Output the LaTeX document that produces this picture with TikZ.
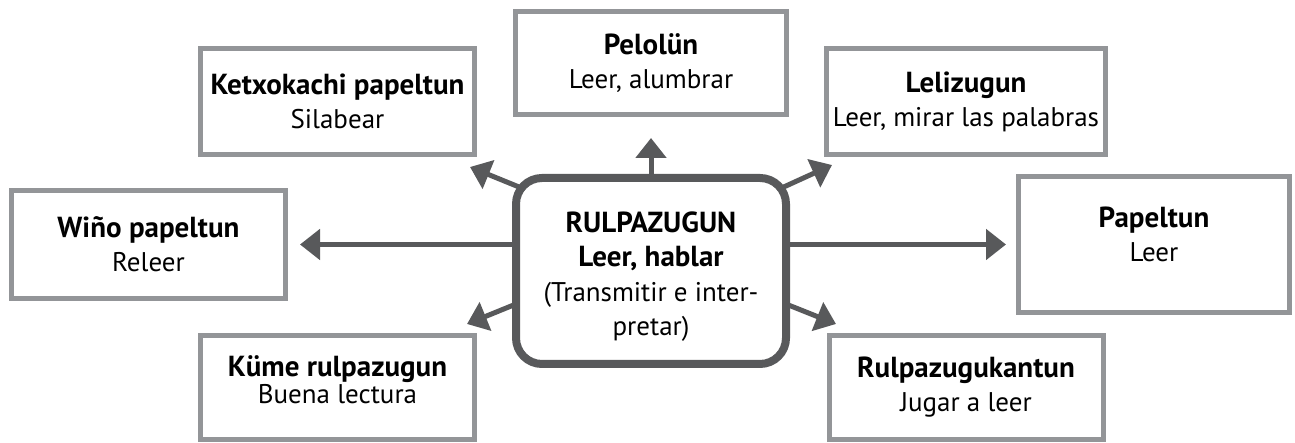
\documentclass[tikz,border=0pt]{standalone}
\usepackage{fontspec}
\setmainfont{PT Sans}
\usepackage{tikz}
\usetikzlibrary{arrows.meta,positioning,backgrounds}
\definecolor{rimgray}{HTML}{939598}
\definecolor{coregray}{HTML}{58595B}
\newcommand{\headline}[1]{{\fontsize{14.5}{17}\selectfont\bfseries #1}}
\tikzset{
    %Define standard arrow tip
    >={Triangle[length=10pt,width=15pt]},
    %Define style for the outer boxes
    leaf/.style={
           rectangle,
           draw=rimgray, line width=2.5pt,
           fill=white,
           minimum width=137pt,
           minimum height=53pt,
           font=\fontsize{13.5}{17}\selectfont,
           align=center},
    %Define style for the middle box
    core/.style={
           rectangle,
           rounded corners=13pt,
           draw=coregray, line width=4pt,
           fill=white,
           minimum width=135pt,
           minimum height=93pt,
           font=\fontsize{13.5}{17.25}\selectfont,
           align=center},
    % Define arrow style
    spoke/.style={
           ->,
           draw=coregray,
           line width=2.5pt}
}
\begin{document}
\begin{tikzpicture}[x=1pt,y=1pt]
\useasboundingbox (0,0) rectangle (647.5,221.5);
\node[core](core) at (325.5,86)
  {\rule{0pt}{16pt}\headline{RULPAZUGUN}\\ \headline{Leer, hablar}\\ (Transmitir e inter-\\ pretar)};
\node[leaf, minimum width=135.5pt, minimum height=51.5pt, above=28.5pt of core](pelo)
  {\headline{Pelolün}\\ Leer, alumbrar};
\node[leaf](ketx) at (168.75,170.75) {\headline{Ketxokachi papeltun}\\ Silabear};
\node[leaf](leli) at (483,170.75) {\headline{Lelizugun}\\ Leer, mirar las palabras};
\node[leaf, minimum height=54pt](wino) at (74.25,99.25) {\headline{Wiño papeltun}\\ Releer};
\node[leaf, minimum width=135.5pt, minimum height=68pt](pape) at (577,99.25)
  {\headline{Papeltun}\\ Leer\rule[-10pt]{0pt}{10pt}};
\node[leaf, minimum height=52pt](kume) at (168.75,27.75)
  {\headline{Küme rulpazugun}\\[-3.5pt] Buena lectura\rule[-8pt]{0pt}{8pt}};
\node[leaf, minimum height=52pt](rulp) at (483,27.75)
  {\headline{Rulpazugukantun}\\ Jugar a leer};
\coordinate (tipKe) at (235,138);
\coordinate (tipLe) at (416,139);
\coordinate (tipKu) at (233.5,59.5);
\coordinate (tipRu) at (418,59.5);
\begin{scope}[on background layer]
\draw[spoke, shorten >=10.5pt] (core.north) -- (pelo.south);
\draw[spoke, shorten >=6pt] (core.west |- wino.east) -- (wino.east);
\draw[spoke, shorten >=5pt] (core.east |- pape.west) -- (pape.west);
\draw[spoke, shorten <=-8pt] (core.148) -- (tipKe);
\draw[spoke, shorten <=-8pt] (core.32) -- (tipLe);
\draw[spoke, shorten <=-8pt] (core.194) -- (tipKu);
\draw[spoke, shorten <=-8pt] (core.346) -- (tipRu);
\end{scope}
\end{tikzpicture}
\end{document}
